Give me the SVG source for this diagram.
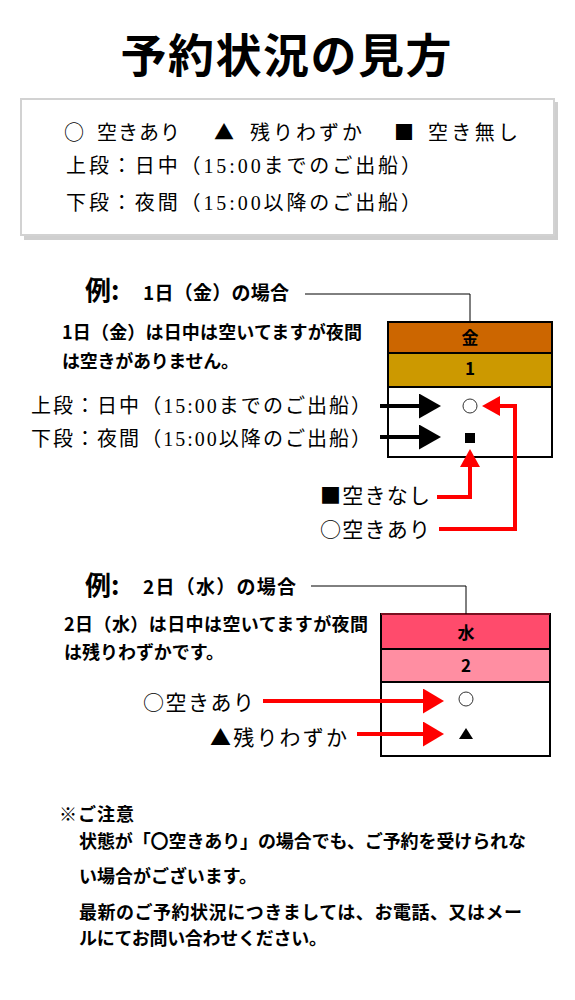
<svg xmlns="http://www.w3.org/2000/svg" width="575" height="1000" viewBox="0 0 575 1000">
<style>
.g{font-family:'Noto Sans CJK JP','Noto Sans',sans-serif;fill:#000}
.b{font-weight:700}
.m{font-family:'Liberation Serif','Noto Sans CJK JP',serif;fill:#000;font-weight:400}
.s{font-family:'Noto Sans CJK JP','Noto Sans',sans-serif}
.c{text-anchor:middle}
.blk{stroke:#000;stroke-width:4;fill:none}
.red{stroke:#ff0000;stroke-width:4;fill:none}
.thin{stroke:#000;stroke-width:1;fill:none}
.tb{stroke:#000;stroke-width:2}
</style>
<defs>
<marker id="hb" markerUnits="userSpaceOnUse" viewBox="0 0 22 25" markerWidth="22" markerHeight="25" refX="0" refY="12.5" orient="auto"><path d="M0,0 L22,12.5 L0,25 z" fill="#000"/></marker>
<marker id="hr1" markerUnits="userSpaceOnUse" viewBox="0 0 18 20" markerWidth="18" markerHeight="20" refX="0" refY="10" orient="auto"><path d="M0,0 L18,10 L0,20 z" fill="#ff0000"/></marker>
<marker id="hr2" markerUnits="userSpaceOnUse" viewBox="0 0 21 25" markerWidth="21" markerHeight="25" refX="0" refY="12.5" orient="auto"><path d="M0,0 L21,12.5 L0,25 z" fill="#ff0000"/></marker>
</defs>
<rect width="575" height="1000" fill="#fff"/>

<g id="title">
<text class="g b c" x="286" y="72" font-size="46" textLength="331">予約状況の見方</text>
</g>

<g id="legend">
<rect x="24" y="102" width="534" height="138" fill="#cfcfcf"/>
<rect x="21" y="99" width="533" height="136" fill="#fff" stroke="#d2d2d2" stroke-width="2"/>
<text class="m" y="140" font-size="20"><tspan class="s" x="64">○</tspan><tspan x="97" textLength="83">空きあり</tspan><tspan class="s" x="214">▲</tspan><tspan x="250" textLength="112">残りわずか</tspan><tspan class="s" x="394">■</tspan><tspan x="428" textLength="90">空き無し</tspan></text>
<text class="m" x="66" y="173" font-size="20" textLength="355">上段：日中（15:00までのご出船）</text>
<text class="m" x="66" y="210" font-size="20" textLength="355">下段：夜間（15:00以降のご出船）</text>
</g>

<g id="example1-heading">
<text class="g b" x="85" y="300" font-size="26">例:</text>
<text class="g b" x="143" y="300" font-size="19" textLength="146">1日（金）の場合</text>
<text class="g b" x="62" y="339" font-size="18" textLength="300">1日（金）は日中は空いてますが夜間</text>
<text class="g b" x="62" y="368" font-size="18" textLength="177">は空きがありません。</text>
</g>

<g id="table1">
<rect x="388" y="322" width="164" height="31" fill="#cc6600" class="tb"/>
<rect x="388" y="353" width="164" height="34" fill="#cc9900" class="tb"/>
<rect x="388" y="387" width="164" height="70" fill="#fff" class="tb"/>
<text class="g b c" x="470" y="344" font-size="17">金</text>
<text class="g b c" x="470" y="375" font-size="17">1</text>
<circle cx="470" cy="406" r="7" fill="#fff" stroke="#333" stroke-width="1"/>
<rect x="465" y="433" width="10" height="10" fill="#000"/>
</g>

<g id="labels1">
<text class="m" x="31" y="413" font-size="20" textLength="340">上段：日中（15:00までのご出船）</text>
<text class="m" x="31" y="446" font-size="20" textLength="340">下段：夜間（15:00以降のご出船）</text>
<text class="m s" x="320" y="503" font-size="21" textLength="110">■空きなし</text>
<text class="m s" x="320" y="537" font-size="21" textLength="110">○空きあり</text>
</g>

<g id="example2-heading">
<text class="g b" x="85" y="595" font-size="26">例:</text>
<text class="g b" x="143" y="594" font-size="19" textLength="153">2日（水）の場合</text>
<text class="g b" x="64" y="631" font-size="18" textLength="304">2日（水）は日中は空いてますが夜間</text>
<text class="g b" x="64" y="659" font-size="18" textLength="160">は残りわずかです。</text>
</g>

<g id="table2">
<rect x="381" y="614" width="169" height="35" fill="#ff4b6c" class="tb"/>
<rect x="381" y="649" width="169" height="33" fill="#ff8ea2" class="tb"/>
<rect x="381" y="682" width="169" height="74" fill="#fff" class="tb"/>
<line x1="381" y1="614" x2="550" y2="614" stroke="#7a1020" stroke-width="2"/>
<text class="g b c" x="466" y="639" font-size="17">水</text>
<text class="g b c" x="466" y="672" font-size="17">2</text>
<circle cx="466" cy="699" r="7" fill="#fff" stroke="#333" stroke-width="1"/>
<polygon points="459,739 473,739 466,728" fill="#000"/>
</g>

<g id="labels2">
<text class="m s" x="143" y="710" font-size="21" textLength="111">○空きあり</text>
<text class="m s" x="210" y="745" font-size="21" textLength="137">▲残りわずか</text>
</g>

<g id="notes">
<text class="g b" x="59" y="821" font-size="18" textLength="75">※ご注意</text>
<text class="g b" x="79" y="848" font-size="18" textLength="447">状態が「〇空きあり」の場合でも、ご予約を受けられな</text>
<text class="g b" x="79" y="883" font-size="18" textLength="178">い場合がございます。</text>
<text class="g b" x="79" y="919" font-size="18" textLength="443">最新のご予約状況につきましては、お電話、又はメー</text>
<text class="g b" x="79" y="945" font-size="18" textLength="248">ルにてお問い合わせください。</text>
</g>

<g id="connectors">
<polyline class="thin" points="305,294 470,294 470,322"/>
<polyline class="thin" points="311,586 466,586 466,614"/>
<line class="blk" x1="380" y1="406" x2="419" y2="406" marker-end="url(#hb)"/>
<line class="blk" x1="380" y1="437" x2="419" y2="437" marker-end="url(#hb)"/>
<polyline class="red" points="437,497 470,497 470,467" marker-end="url(#hr1)"/>
<polyline class="red" points="439,529 515,529 515,406 500,406" marker-end="url(#hr1)"/>
<line class="red" x1="263" y1="701" x2="423" y2="701" marker-end="url(#hr2)"/>
<line class="red" x1="357" y1="734" x2="423" y2="734" marker-end="url(#hr2)"/>
</g>
</svg>
